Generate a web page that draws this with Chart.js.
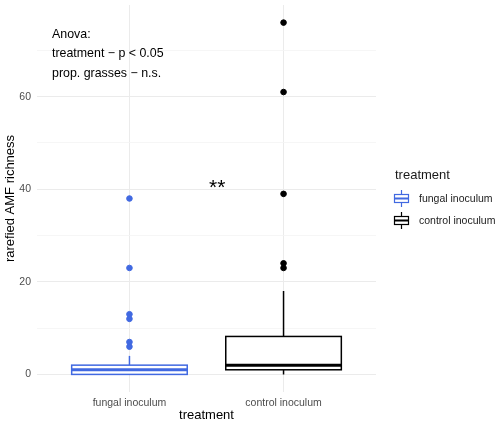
<!DOCTYPE html>
<html>
<head>
<meta charset="utf-8">
<script src="https://cdn.jsdelivr.net/npm/chart.js@4"></script>
<style>
  body { margin: 0; background: #fff; }
  #wrap { position: relative; width: 500px; height: 426px; }
  #legend { position: absolute; left: 393px; top: 167px; font-family: "Liberation Sans", Arial, sans-serif; color: #1a1a1a; }
  #legend .title { font-size: 13px; margin-left: 2px; margin-bottom: 5px; }
  #legend .item { display: flex; align-items: center; height: 22px; font-size: 10.5px; }
  #legend svg { margin-right: 9px; }
</style>
</head>
<body>
<div id="wrap">
  <canvas id="chart" width="500" height="426"></canvas>
  <div id="legend"></div>
</div>
<script>
// data
const categories = ['fungal inoculum', 'control inoculum'];
const whiskerLow = [0, 0];
const q1 = [0, 1];
const medians = [1, 2];
const q3 = [2, 8.2];
const whiskerHigh = [4, 18];
const outliers = [
    [6, 7, 12, 13, 23, 38],
    [23, 24, 39, 61, 76]
];
const colors = ['#4169E1', '#000000'];
const anovaLines = ['Anova:', 'treatment \u2212 p < 0.05', 'prop. grasses \u2212 n.s.'];

const FONT = '"Liberation Sans", Arial, sans-serif';
const BOX_WIDTH = 0.75;

const boxplotPlugin = {
    id: 'boxplot',
    beforeDatasetsDraw(chart) {
        const ctx = chart.ctx;
        const x = chart.scales.x;
        const y = chart.scales.y;
        categories.forEach((cat, i) => {
            const cx = x.getPixelForValue(i + 1);
            const left = x.getPixelForValue(i + 1 - BOX_WIDTH / 2);
            const right = x.getPixelForValue(i + 1 + BOX_WIDTH / 2);
            ctx.save();
            ctx.strokeStyle = colors[i];
            ctx.lineWidth = 1.5;
            // whiskers
            ctx.beginPath();
            ctx.moveTo(cx, y.getPixelForValue(q3[i]));
            ctx.lineTo(cx, y.getPixelForValue(whiskerHigh[i]));
            ctx.moveTo(cx, y.getPixelForValue(q1[i]));
            ctx.lineTo(cx, y.getPixelForValue(whiskerLow[i]));
            ctx.stroke();
            // box
            const top = y.getPixelForValue(q3[i]);
            const bottom = y.getPixelForValue(q1[i]);
            ctx.fillStyle = '#ffffff';
            ctx.fillRect(left, top, right - left, bottom - top);
            ctx.strokeRect(left, top, right - left, bottom - top);
            // median
            ctx.lineWidth = 3;
            ctx.beginPath();
            ctx.moveTo(left, y.getPixelForValue(medians[i]));
            ctx.lineTo(right, y.getPixelForValue(medians[i]));
            ctx.stroke();
            ctx.restore();
        });
    },
    afterDatasetsDraw(chart) {
        const ctx = chart.ctx;
        const area = chart.chartArea;
        const x = chart.scales.x;
        const y = chart.scales.y;
        ctx.save();
        ctx.fillStyle = '#000000';
        ctx.font = '12.4px ' + FONT;
        ctx.textBaseline = 'middle';
        anovaLines.forEach((line, k) => {
            ctx.fillText(line, area.left + 15, area.top + 29.5 + k * 19.5);
        });
        ctx.font = '21px ' + FONT;
        ctx.textAlign = 'center';
        ctx.fillText('**', x.getPixelForValue(1.57), y.getPixelForValue(40.2));
        ctx.restore();
    }
};

const datasets = categories.map((cat, i) => ({
    label: cat,
    type: 'scatter',
    data: outliers[i].map(v => ({ x: i + 1, y: v })),
    backgroundColor: colors[i],
    borderColor: colors[i],
    pointRadius: 2.8,
    pointHoverRadius: 2.8
}));

new Chart(document.getElementById('chart'), {
    type: 'scatter',
    data: { datasets: datasets },
    options: {
        responsive: false,
        animation: false,
        layout: { padding: { top: 5, right: 124, left: 0, bottom: 0 } },
        plugins: {
            legend: { display: false },
            tooltip: { enabled: false }
        },
        scales: {
            x: {
                type: 'linear',
                min: 0.4,
                max: 2.6,
                afterBuildTicks: axis => { axis.ticks = [{ value: 1 }, { value: 2 }]; },
                afterFit: axis => {
                    axis.height = 34;
                    axis.paddingLeft = 0;
                    axis.paddingRight = 0;
                },
                ticks: {
                    callback: v => categories[v - 1],
                    color: '#4d4d4d',
                    font: { family: FONT, size: 10.5 },
                    padding: 5
                },
                grid: { color: '#ebebeb', lineWidth: 1, drawTicks: false },
                border: { display: false },
                title: {
                    display: true,
                    text: 'treatment',
                    color: '#000000',
                    font: { family: FONT, size: 13 },
                    padding: { top: 0, bottom: 3 }
                }
            },
            y: {
                min: -3.8,
                max: 79.8,
                afterBuildTicks: axis => {
                    axis.ticks = [0, 10, 20, 30, 40, 50, 60, 70].map(v => ({ value: v }));
                },
                afterFit: axis => {
                    axis.width = 37;
                    axis.paddingTop = 0;
                    axis.paddingBottom = 0;
                },
                ticks: {
                    callback: v => (v % 20 === 0 ? String(v) : ''),
                    color: '#4d4d4d',
                    font: { family: FONT, size: 10.5 },
                    padding: 6
                },
                grid: {
                    color: ctx => (ctx.tick && ctx.tick.value % 20 === 0 ? '#ebebeb' : '#f4f4f4'),
                    lineWidth: ctx => (ctx.tick && ctx.tick.value % 20 === 0 ? 1 : 0.8),
                    drawTicks: false
                },
                border: { display: false },
                title: {
                    display: true,
                    text: 'rarefied AMF richness',
                    color: '#000000',
                    font: { family: FONT, size: 13 },
                    padding: { top: 3, bottom: 0 }
                }
            }
        }
    },
    plugins: [boxplotPlugin]
});

// legend with small boxplot keys
function keyGlyph(color) {
    return '<svg width="17" height="17" viewBox="0 0 17 17">' +
        '<line x1="8.5" y1="0" x2="8.5" y2="17" stroke="' + color + '" stroke-width="1.2"/>' +
        '<rect x="1.5" y="4.5" width="14" height="8" fill="#fff" stroke="' + color + '" stroke-width="1.2"/>' +
        '<line x1="1.5" y1="8.5" x2="15.5" y2="8.5" stroke="' + color + '" stroke-width="2"/>' +
        '</svg>';
}
const legendEl = document.getElementById('legend');
let html = '<div class="title">treatment</div>';
categories.forEach((cat, i) => {
    html += '<div class="item">' + keyGlyph(colors[i]) + '<span>' + cat + '</span></div>';
});
legendEl.innerHTML = html;
</script>
</body>
</html>
